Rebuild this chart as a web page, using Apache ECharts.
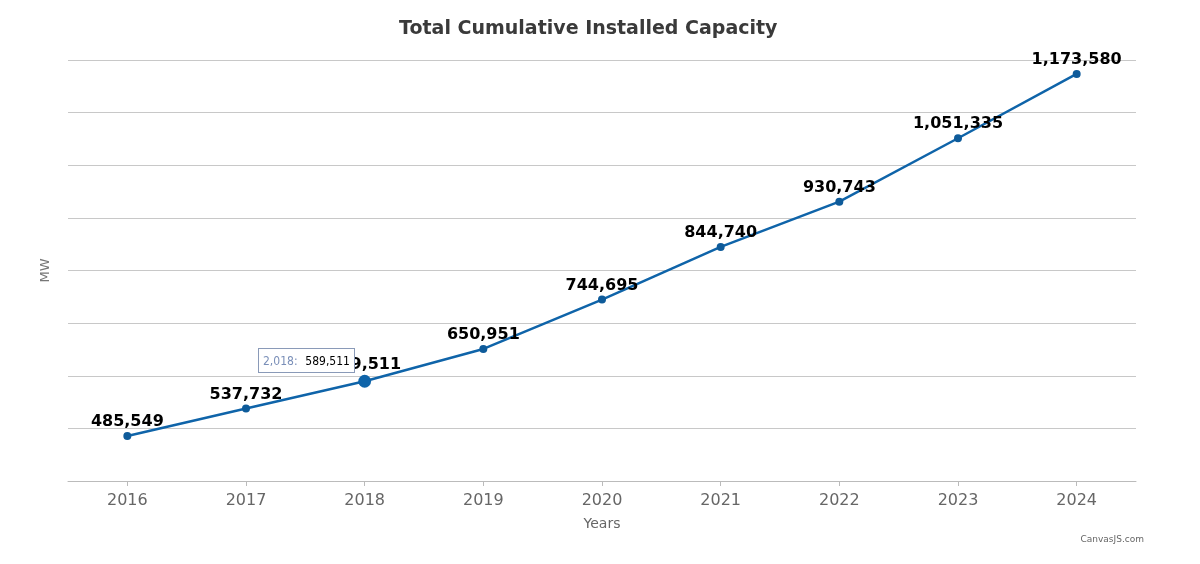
<!DOCTYPE html>
<html>
<head>
<meta charset="utf-8">
<script src="https://cdn.jsdelivr.net/npm/echarts@6/dist/echarts.min.js"></script>
<style>
  html, body { margin: 0; padding: 0; background: #fff; }
  #chart { width: 1200px; height: 564px; }
</style>
</head>
<body>
<div id="chart"></div>
<script>
const years = ['2016', '2017', '2018', '2019', '2020', '2021', '2022', '2023', '2024']
const capacity = [485549, 537732, 589511, 650951, 744695, 844740, 930743, 1051335, 1173580]

const fmt = v => v.toLocaleString('en-US')

const chart = echarts.init(document.getElementById('chart'))
chart.setOption({
  animation: false,
  title: {
    text: 'Total Cumulative Installed Capacity',
    left: 394,
    top: 15,
    textStyle: { fontFamily: 'DejaVu Sans', fontSize: 19, fontWeight: 'bold', color: '#3a3a3a' }
  },
  grid: { left: 68, right: 64, top: 60, bottom: 83 },
  tooltip: {
    trigger: 'item',
    alwaysShowContent: true,
    position: [258, 348],
    backgroundColor: '#fff',
    borderColor: '#8a9ab8',
    borderWidth: 1,
    borderRadius: 0,
    padding: [4, 4],
    extraCssText: 'box-shadow:none;line-height:14px;',
    formatter: p => '<span style="color:#7a8fb8;font-size:12px;font-family:DejaVu Sans Condensed">' +
      fmt(Number(p.name)) + ':</span>&nbsp; <span style="color:#000;font-size:12px;font-family:DejaVu Sans Condensed">' +
      fmt(p.value) + '</span>'
  },
  xAxis: {
    type: 'category',
    data: years,
    name: 'Years',
    nameLocation: 'middle',
    nameGap: 36,
    nameTextStyle: { fontFamily: 'DejaVu Sans', fontSize: 14, color: '#666' },
    axisTick: { show: true, alignWithLabel: true, length: 5, lineStyle: { color: '#bbb' } },
    axisLine: { lineStyle: { color: '#bbb' } },
    axisLabel: { fontFamily: 'DejaVu Sans', fontSize: 16, color: '#666', margin: 12 }
  },
  yAxis: {
    type: 'value',
    min: 400000,
    max: 1200000,
    interval: 100000,
    name: 'MW',
    nameLocation: 'middle',
    nameGap: 16,
    nameTextStyle: { fontFamily: 'DejaVu Sans', fontSize: 13, color: '#777' },
    axisLabel: { show: false },
    axisLine: { show: false },
    axisTick: { show: false },
    splitLine: { lineStyle: { color: '#c8c8c8' } }
  },
  series: [{
    type: 'line',
    data: capacity,
    symbol: 'circle',
    symbolSize: 8,
    lineStyle: { color: '#0e5b9a', width: 2.5 },
    itemStyle: { color: '#0e5b9a' },
    emphasis: { scale: 1.6 },
    label: {
      show: true,
      position: 'top',
      distance: 2,
      formatter: p => fmt(p.value),
      fontFamily: 'DejaVu Sans',
      fontSize: 16,
      fontWeight: 'bold',
      color: '#000'
    }
  }],
  graphic: [{
    type: 'text',
    right: 56,
    top: 535,
    style: { text: 'CanvasJS.com', fontFamily: 'DejaVu Sans', fontSize: 9, fill: '#666' }
  }]
})
chart.dispatchAction({ type: 'showTip', seriesIndex: 0, dataIndex: 2 })
chart.dispatchAction({ type: 'highlight', seriesIndex: 0, dataIndex: 2 })
</script>
</body>
</html>
